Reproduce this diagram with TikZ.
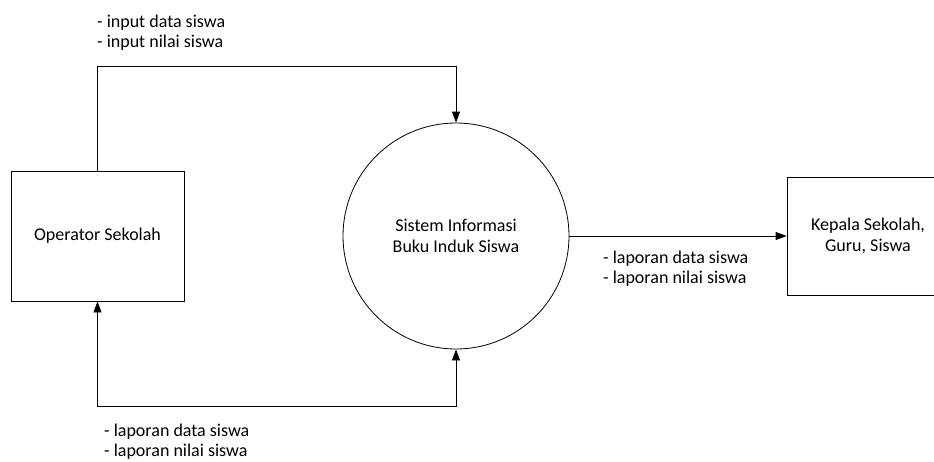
\documentclass[tikz,border=0pt]{standalone}
\usepackage{fontspec}
\setmainfont{Carlito}
\usetikzlibrary{arrows.meta}

\begin{document}
\begin{tikzpicture}[x=1pt,y=-1pt,
  every node/.style={font=\fontsize{18}{20.5}\selectfont},
  entity/.style={draw,thick,align=center},
  process/.style={draw,thick,circle,align=center,minimum size=226pt},
  flowlabel/.style={anchor=west,align=left,inner sep=0pt},
  flow/.style={thick,-{Triangle[length=11pt,width=8pt]}}]
  \useasboundingbox (0,0) rectangle (934,461);

  \node[entity,minimum width=173pt,minimum height=130pt] (operator) at (97.5,236)
    {Operator Sekolah};
  \node[process] (sistem) at (456,236)
    {Sistem Informasi\\Buku Induk Siswa};
  \node[entity,minimum width=162pt,minimum height=118pt] (kepala) at (868,236)
    {Kepala Sekolah,\\Guru, Siswa};

  % corners of the two loops
  \coordinate (topturn) at (97.5,66);
  \coordinate (botturn) at (97.5,406);

  \draw[flow] (operator.north) -- (topturn) -| (sistem.north);
  \draw[flow,{Triangle[length=11pt,width=8pt]}-{Triangle[length=11pt,width=8pt]}]
    (operator.south) -- (botturn) -| (sistem.south);
  \draw[flow] (sistem.east) -- (kepala.west);

  \node[flowlabel] (lblinput) at (97,32.5)
    {- input data siswa\\- input nilai siswa};
  \node[flowlabel] (lbllapor) at (603,268.5)
    {- laporan data siswa\\- laporan nilai siswa};
  \node[flowlabel] (lblbalik) at (104,441.5)
    {- laporan data siswa\\- laporan nilai siswa};
\end{tikzpicture}
\end{document}
